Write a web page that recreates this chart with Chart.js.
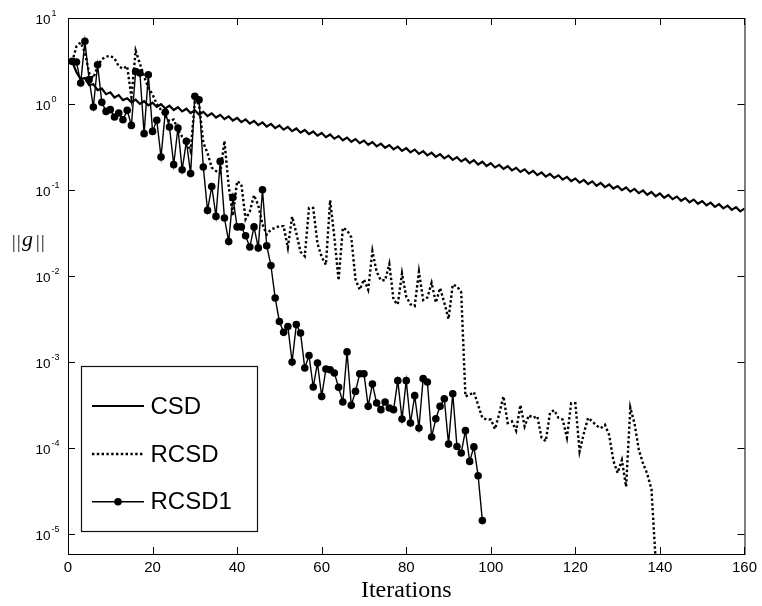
<!DOCTYPE html>
<html><head><meta charset="utf-8">
<script src="https://cdn.jsdelivr.net/npm/chart.js@4/dist/chart.umd.min.js"></script>
<style>html,body{margin:0;padding:0;background:#fff}canvas{display:block}</style>
</head><body>
<canvas id="c" width="762" height="606"></canvas>
<script>
// ---- data ----
const xTickValues = [0, 20, 40, 60, 80, 100, 120, 140, 160];
const yTickExponents = [1, 0, -1, -2, -3, -4, -5];
const seriesNames = ['CSD', 'RCSD', 'RCSD1'];
const xAxisTitle = 'Iterations';
const yMin = 5.85e-6, yMax = 10;

// CSD, iterations 1..160
const csd = [
  3.09, 2.34, 1.95, 2.00, 1.66, 1.70, 1.45, 1.51, 1.30, 1.37,
  1.19, 1.27, 1.11, 1.168, 1.044, 1.122, 1.002, 1.077, 0.963, 1.034,
  0.924, 0.993, 0.888, 0.954, 0.852, 0.916, 0.819, 0.880, 0.786, 0.845,
  0.755, 0.811, 0.725, 0.779, 0.696, 0.748, 0.669, 0.718, 0.642, 0.690,
  0.616, 0.662, 0.592, 0.636, 0.568, 0.611, 0.546, 0.587, 0.524, 0.563,
  0.503, 0.541, 0.483, 0.519, 0.464, 0.499, 0.446, 0.479, 0.428, 0.460,
  0.411, 0.442, 0.395, 0.424, 0.379, 0.407, 0.364, 0.391, 0.350, 0.376,
  0.336, 0.361, 0.322, 0.346, 0.310, 0.333, 0.297, 0.319, 0.285, 0.307,
  0.274, 0.295, 0.263, 0.283, 0.253, 0.272, 0.243, 0.261, 0.233, 0.251,
  0.224, 0.241, 0.215, 0.231, 0.206, 0.222, 0.198, 0.213, 0.190, 0.205,
  0.183, 0.196, 0.176, 0.189, 0.169, 0.181, 0.162, 0.174, 0.155, 0.167,
  0.149, 0.160, 0.143, 0.154, 0.138, 0.148, 0.132, 0.142, 0.127, 0.136,
  0.122, 0.131, 0.117, 0.126, 0.112, 0.121, 0.108, 0.116, 0.104, 0.111,
  0.0996, 0.107, 0.0956, 0.103, 0.0918, 0.0986, 0.0881, 0.0947, 0.0846, 0.0910,
  0.0813, 0.0874, 0.0781, 0.0839, 0.0750, 0.0806, 0.0720, 0.0774, 0.0692, 0.0743,
  0.0664, 0.0713, 0.0637, 0.0685, 0.0612, 0.0658, 0.0588, 0.0632, 0.0565, 0.0607
];

// RCSD, iterations 1..139
const rcsd = [
  3.09, 4.68, 5.20, 3.98, 2.29, 2.00, 2.75, 3.31, 3.55, 3.63,
  3.39, 2.75, 2.57, 2.75, 1.20, 4.17, 2.95, 2.09, 1.55, 1.29,
  1.00, 0.851, 0.724, 0.631, 0.661, 0.501, 0.417, 0.380, 0.282, 1.072,
  1.00, 0.355, 0.269, 0.182, 0.166, 0.158, 0.372, 0.112, 0.0501, 0.126,
  0.117, 0.0457, 0.0562, 0.0871, 0.0661, 0.0398, 0.0302, 0.0347, 0.0363, 0.0380,
  0.0380, 0.0214, 0.0490, 0.0316, 0.0191, 0.0170, 0.0617, 0.0617, 0.0240, 0.0166,
  0.0135, 0.0759, 0.0282, 0.00891, 0.0363, 0.0339, 0.0282, 0.00912, 0.00692, 0.00912,
  0.00692, 0.0195, 0.0112, 0.00891, 0.00891, 0.0138, 0.00525, 0.00468, 0.0107, 0.00575,
  0.00468, 0.00447, 0.0112, 0.00525, 0.00562, 0.00832, 0.00490, 0.00724, 0.00490, 0.00316,
  0.00794, 0.00759, 0.00646, 0.000398, 0.000417, 0.000447, 0.000316, 0.000224, 0.000214, 0.000214,
  0.000166, 0.000251, 0.000398, 0.000195, 0.000204, 0.000158, 0.000316, 0.000178, 0.000240, 0.000224,
  0.000234, 0.000132, 0.000120, 0.000257, 0.000275, 0.000224, 0.000214, 0.000132, 0.000331, 0.000331,
  0.0000912, 0.000148, 0.000224, 0.000204, 0.000182, 0.000170, 0.000186, 0.000141, 0.0000708, 0.0000513,
  0.0000724, 0.0000355, 0.000295, 0.000191, 0.0000955, 0.0000661, 0.0000501, 0.0000331, 0.00000479
];

// RCSD1, iterations 1..98
const rcsd1 = [
  3.13, 3.08, 1.754, 5.35, 1.92, 0.923, 2.86, 1.045, 0.820, 0.859,
  0.706, 0.785, 0.656, 0.843, 0.564, 2.39, 2.29, 0.452, 2.19, 0.480,
  0.646, 0.242, 0.800, 0.541, 0.197, 0.526, 0.172, 0.368, 0.155, 1.227,
  1.122, 0.185, 0.0579, 0.110, 0.0493, 0.215, 0.0472, 0.0252, 0.0820, 0.0372,
  0.0372, 0.0294, 0.0217, 0.0372, 0.0212, 0.1007, 0.0225, 0.0132, 0.00555, 0.00296,
  0.00221, 0.00259, 0.00100, 0.00272, 0.00217, 0.000851, 0.00119, 0.000512, 0.000973, 0.000398,
  0.000830, 0.000813, 0.000745, 0.000507, 0.000343, 0.00131, 0.000313, 0.000455, 0.000731, 0.000731,
  0.000305, 0.000555, 0.000333, 0.000279, 0.000343, 0.000292, 0.000279, 0.000607, 0.000217, 0.000607,
  0.000195, 0.000406, 0.000171, 0.000640, 0.000585, 0.000134, 0.000219, 0.000305, 0.000374, 0.000111,
  0.000428, 0.000104, 0.0000875, 0.000159, 0.0000698, 0.000103, 0.0000476, 0.0000143
];

const toPoints = arr => arr.map((v, i) => ({ x: i + 1, y: v }));
const SANS = '"Liberation Sans", Arial, Helvetica, sans-serif';
const SERIF = '"Liberation Serif", "Times New Roman", serif';

const framePlugin = {
  id: 'frameAndLegend',
  afterDatasetsDraw(chart) {
    const { ctx, chartArea: a, scales: { x, y } } = chart;
    ctx.save();
    ctx.strokeStyle = '#000';
    ctx.lineWidth = 1;
    ctx.setLineDash([]);
    // inward tick marks on all four sides
    ctx.beginPath();
    xTickValues.forEach(v => {
      const px = Math.round(x.getPixelForValue(v)) + 0.5;
      ctx.moveTo(px, a.bottom); ctx.lineTo(px, a.bottom - 7);
      ctx.moveTo(px, a.top); ctx.lineTo(px, a.top + 7);
    });
    yTickExponents.forEach(e => {
      const py = Math.round(y.getPixelForValue(Math.pow(10, e))) + 0.5;
      ctx.moveTo(a.left, py); ctx.lineTo(a.left + 7, py);
      ctx.moveTo(a.right, py); ctx.lineTo(a.right - 7, py);
    });
    ctx.stroke();
    ctx.strokeRect(a.left + 0.5, a.top + 0.5, a.right - a.left, a.bottom - a.top);

    // y tick labels 10^e
    ctx.fillStyle = '#000';
    yTickExponents.forEach(e => {
      const py = y.getPixelForValue(Math.pow(10, e));
      ctx.font = '13.5px ' + SANS;
      ctx.textAlign = 'right';
      ctx.textBaseline = 'alphabetic';
      ctx.fillText('10', 50.5, py + 6);
      ctx.font = '9px ' + SANS;
      ctx.textAlign = 'left';
      ctx.fillText(String(e), 51.5, py - 2);
    });

    // y axis label ||g||
    ctx.textAlign = 'left';
    ctx.textBaseline = 'alphabetic';
    ctx.font = '18px ' + SERIF;
    ctx.fillText('|', 12, 248);
    ctx.fillText('|', 17, 248);
    ctx.fillText('|', 36, 248);
    ctx.fillText('|', 41, 248);
    ctx.font = 'italic 22px ' + SERIF;
    ctx.fillText('g', 22, 246);

    // legend box
    const lx = 81.5, ly = 366.5, lw = 176, lh = 165;
    ctx.fillStyle = '#fff';
    ctx.fillRect(lx, ly, lw, lh);
    ctx.strokeStyle = '#111';
    ctx.lineWidth = 1.2;
    ctx.strokeRect(lx, ly, lw, lh);
    const rows = [406, 454, 501.7];
    chart.data.datasets.forEach((ds, i) => {
      const ry = rows[i];
      ctx.strokeStyle = '#000';
      ctx.lineWidth = ds.borderWidth;
      ctx.setLineDash(ds.borderDash || []);
      ctx.beginPath();
      ctx.moveTo(92, ry); ctx.lineTo(144, ry);
      ctx.stroke();
      ctx.setLineDash([]);
      if (ds.pointRadius > 0) {
        ctx.fillStyle = '#000';
        ctx.beginPath();
        ctx.arc(118, ry, ds.pointRadius, 0, Math.PI * 2);
        ctx.fill();
      }
      ctx.fillStyle = '#000';
      ctx.font = '24px ' + SANS;
      ctx.textAlign = 'left';
      ctx.textBaseline = 'middle';
      ctx.fillText(ds.label, 150.5, ry + 1);
    });
    ctx.restore();
  }
};

new Chart(document.getElementById('c').getContext('2d'), {
  type: 'line',
  data: {
    datasets: [
      { label: seriesNames[0], data: toPoints(csd), borderColor: '#000', borderWidth: 2.2,
        pointRadius: 0, tension: 0, fill: false },
      { label: seriesNames[1], data: toPoints(rcsd), borderColor: '#000', borderWidth: 2.4,
        borderDash: [2.4, 2.4], pointRadius: 0, tension: 0, fill: false },
      { label: seriesNames[2], data: toPoints(rcsd1), borderColor: '#000', borderWidth: 1.4,
        pointRadius: 3.8, pointBackgroundColor: '#000', pointBorderColor: '#000', pointBorderWidth: 0,
        tension: 0, fill: false }
    ]
  },
  options: {
    responsive: false,
    animation: false,
    devicePixelRatio: 1,
    layout: { padding: { left: 0, right: 14, top: 18, bottom: 0 } },
    plugins: { legend: { display: false }, tooltip: { enabled: false } },
    scales: {
      x: {
        type: 'linear', min: 0, max: 160,
        grid: { display: false, drawTicks: false },
        border: { display: false },
        ticks: { stepSize: 20, color: '#000', font: { family: SANS, size: 15 }, padding: 5, maxRotation: 0 },
        afterBuildTicks: s => { s.ticks = xTickValues.map(v => ({ value: v })); },
        title: { display: true, text: xAxisTitle, color: '#000',
                 font: { family: SERIF, size: 24, lineHeight: 1.2 }, padding: { top: 0, bottom: 0.6 } },
        afterFit: s => { s.height = 52; }
      },
      y: {
        type: 'logarithmic', min: yMin, max: yMax,
        grid: { display: false, drawTicks: false },
        border: { display: false },
        ticks: { display: false },
        afterBuildTicks: s => { s.ticks = yTickExponents.map(e => ({ value: Math.pow(10, e) })); },
        afterFit: s => { s.width = 68; }
      }
    }
  },
  plugins: [framePlugin]
});
</script>
</body></html>
